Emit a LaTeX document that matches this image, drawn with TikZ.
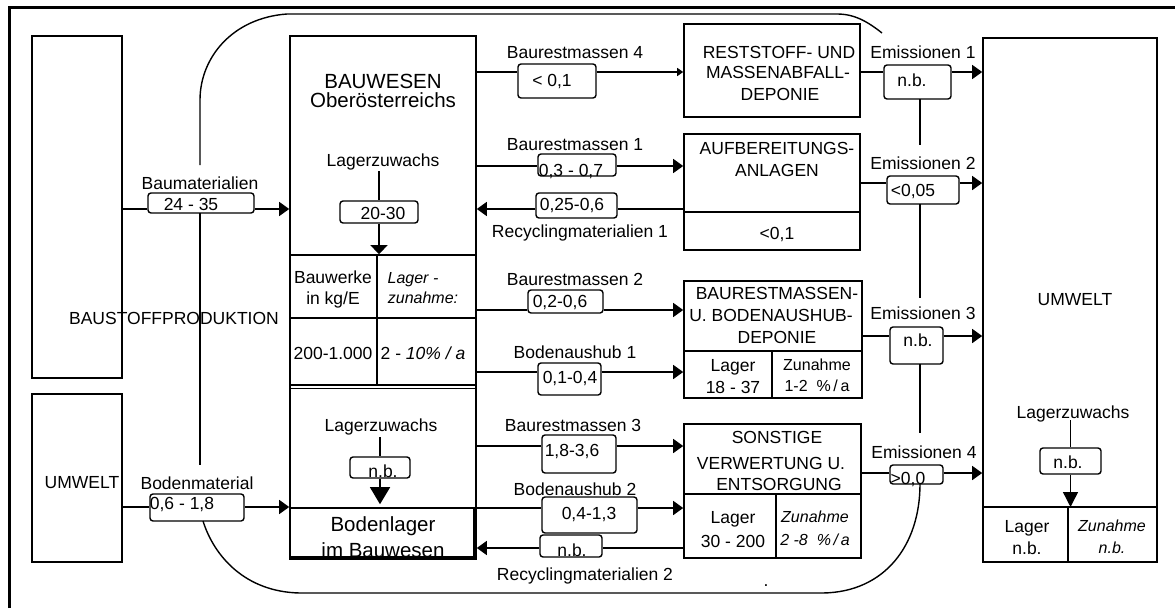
\documentclass[tikz,border=0pt]{standalone}
\usepackage{fontspec}
\setmainfont{Liberation Sans}
\usetikzlibrary{arrows.meta}
\tikzset{
 tx/.style={inner sep=0pt, font=\fontsize{17.5pt}{21pt}\selectfont, text height=12.5pt, text depth=0pt},
 txl/.style={inner sep=0pt, font=\fontsize{20.5pt}{24pt}\selectfont, text height=14.7pt, text depth=0pt},
 txs/.style={inner sep=0pt, font=\fontsize{16pt}{19pt}\selectfont, text height=11.5pt, text depth=0pt},
 txsi/.style={inner sep=0pt, font=\fontsize{16pt}{19pt}\selectfont\itshape, text height=11.5pt, text depth=0pt},
 blk/.style={draw, line width=1.6pt, inner sep=0pt},
 vbox/.style={draw, line width=1.4pt, rounded corners=3pt, inner sep=0pt},
 flow/.style={line width=1.4pt},
 arr/.style={flow, -{Triangle[length=10pt,width=14pt]}},
 arrsmall/.style={flow, -{Triangle[length=6pt,width=8pt]}},
 arrdA/.style={flow, -{Triangle[length=9pt,width=17pt]}},
 arrdB/.style={flow, -{Triangle[length=17pt,width=20pt]}},
 arrdC/.style={flow, -{Triangle[length=15pt,width=15pt]}},
}
\begin{document}
\begin{tikzpicture}[x=1pt,y=-1pt]
\useasboundingbox (0,0) rectangle (1175,608);
% outer frame
\draw[line width=3pt] (9.5,608) -- (9.5,7.5) -- (1175,7.5);

% large boxes
\node[blk, minimum width=90pt, minimum height=342pt] (bsp) at (77,207) {};
\node[blk, minimum width=90pt, minimum height=168pt] (uml) at (77,478) {};
\node[blk, minimum width=186pt, minimum height=523pt] (bw) at (383,297.5) {};
\node[blk, minimum width=186pt, minimum height=130pt] (tab) at (383,320) {};
\draw[line width=1.6pt] (290,318) -- (476,318);
\draw[line width=1.6pt] (377,255) -- (377,385);
\draw[line width=1.6pt] (290,388.5) -- (476,388.5);
\node[blk, minimum width=184pt, minimum height=49pt] (bl) at (382,532.5) {};
\node[blk, minimum width=176pt, minimum height=93pt] (rs) at (772,70.5) {};
\node[blk, minimum width=176pt, minimum height=116pt] (af) at (772,192) {};
\draw[line width=1.6pt] (684,212) -- (860,212);
\node[blk, minimum width=178pt, minimum height=117pt] (bd) at (773,339.5) {};
\draw[line width=1.6pt] (684,351) -- (862,351);
\draw[line width=1.6pt] (772,351) -- (772,398);
\node[blk, minimum width=177pt, minimum height=134pt] (so) at (772.5,491) {};
\draw[line width=1.6pt] (684,494) -- (861,494);
\draw[line width=1.6pt] (776,494) -- (776,558);
\node[blk, minimum width=174pt, minimum height=524pt] (ur) at (1070,300) {};
\draw[line width=1.6pt] (983,507) -- (1157,507);
\draw[line width=1.6pt] (1068,507) -- (1068,562);
\coordinate (urdiv) at (1068,507);

% value boxes
\node[vbox, minimum width=106pt, minimum height=20pt] (v1) at (201,203) {};
\node[vbox, minimum width=94pt, minimum height=27pt] (v2) at (197,507.5) {};
\node[vbox, minimum width=78pt, minimum height=34pt] (vb4) at (557,81) {};
\node[vbox, minimum width=78pt, minimum height=22pt] (vb1) at (577,165) {};
\node[vbox, minimum width=81pt, minimum height=25pt] (vr1) at (576.5,205.5) {};
\node[vbox, minimum width=75pt, minimum height=23pt] (vb2) at (565.5,301.5) {};
\node[vbox, minimum width=63pt, minimum height=32pt] (va1) at (569.5,379) {};
\node[vbox, minimum width=74pt, minimum height=38pt] (vb3) at (579,454) {};
\node[vbox, minimum width=95pt, minimum height=36pt] (va2) at (589.5,515) {};
\node[vbox, minimum width=62pt, minimum height=22pt] (vr2) at (571,546) {};
\node[vbox, minimum width=67pt, minimum height=34pt] (ve1) at (917.5,82) {};
\node[vbox, minimum width=72pt, minimum height=28pt] (ve2) at (923,190) {};
\node[vbox, minimum width=53pt, minimum height=37pt] (ve3) at (916.5,345.5) {};
\node[vbox, minimum width=53pt, minimum height=19pt] (ve4) at (916.5,474.5) {};
\node[vbox, minimum width=78pt, minimum height=22pt] (vl1) at (379,212) {};
\node[vbox, minimum width=60pt, minimum height=21pt] (vl2) at (380,467.5) {};
\node[vbox, minimum width=61pt, minimum height=26pt] (vl3) at (1070.5,461) {};

% flow levels
\coordinate (yBM) at (0,209);
\coordinate (yBO) at (0,507);
\coordinate (yB4) at (0,72);
\coordinate (yB1) at (0,166);
\coordinate (yR1) at (0,209);
\coordinate (yB2) at (0,310);
\coordinate (yA1) at (0,372);
\coordinate (yB3) at (0,446);
\coordinate (yA2) at (0,508);
\coordinate (yR2) at (0,548);
\coordinate (yE1) at (0,72);
\coordinate (yE2) at (0,183);
\coordinate (yE3) at (0,336);
\coordinate (yE4) at (0,473);

% left flows
\draw[flow] (bsp.east |- yBM) -- (v1.west |- yBM);
\draw[arr] (v1.east |- yBM) -- (bw.west |- yBM);
\draw[flow] (uml.east |- yBO) -- (v2.west |- yBO);
\draw[arr] (v2.east |- yBO) -- (bw.west |- yBO);

% middle flows
\draw[flow] (bw.east |- yB4) -- (vb4.west |- yB4);
\draw[arrsmall] (vb4.east |- yB4) -- (rs.west |- yB4);
\draw[flow] (bw.east |- yB1) -- (vb1.west |- yB1);
\draw[arr] (vb1.east |- yB1) -- (af.west |- yB1);
\draw[flow] (af.west |- yR1) -- (vr1.east |- yR1);
\draw[arr] (vr1.west |- yR1) -- (bw.east |- yR1);
\draw[flow] (bw.east |- yB2) -- (vb2.west |- yB2);
\draw[arr] (vb2.east |- yB2) -- (bd.west |- yB2);
\draw[flow] (bw.east |- yA1) -- (va1.west |- yA1);
\draw[arr] (va1.east |- yA1) -- (bd.west |- yA1);
\draw[flow] (bw.east |- yB3) -- (vb3.west |- yB3);
\draw[arr] (vb3.east |- yB3) -- (so.west |- yB3);
\draw[flow] (bw.east |- yA2) -- (va2.west |- yA2);
\draw[arr] (va2.east |- yA2) -- (so.west |- yA2);
\draw[flow] (so.west |- yR2) -- (vr2.east |- yR2);
\draw[arr] (vr2.west |- yR2) -- (bw.east |- yR2);

% right flows
\draw[flow] (rs.east |- yE1) -- (ve1.west |- yE1);
\draw[arr] (ve1.east |- yE1) -- (ur.west |- yE1);
\draw[flow] (af.east |- yE2) -- (ve2.west |- yE2);
\draw[arr] (ve2.east |- yE2) -- (ur.west |- yE2);
\draw[flow] (bd.east |- yE3) -- (ve3.west |- yE3);
\draw[arr] (ve3.east |- yE3) -- (ur.west |- yE3);
\draw[flow] (so.east |- yE4) -- (ve4.west |- yE4);
\draw[arr] (ve4.east |- yE4) -- (ur.west |- yE4);

% system boundary
\draw[flow] (882,33) .. controls (868,22) and (855,14) .. (837,14) -- (287,14) .. controls (232,18) and (200,58) .. (200,100) -- (200,165);
\draw[flow] (200,213) -- (200,465);
\draw[flow] (203,521) .. controls (214,556) and (245,592) .. (300,593) -- (823,593) .. controls (885,592) and (920,545) .. (920,484);
\draw[flow] (920,99) -- (920,145);
\draw[flow] (920,204) -- (920,298);
\draw[flow] (920,364) -- (920,433);

% inner stock arrows
\node[tx] (lz1) at (383,160) {Lagerzuwachs};
\node[tx] (lz2) at (381,425) {Lagerzuwachs};
\node[tx] (lz3) at (1073,412) {Lagerzuwachs};
\draw[flow] ([yshift=-5pt]lz1.south -| vl1.north) -- (vl1.north);
\draw[arrdA] (vl1.south) -- (vl1.south |- tab.north);
\draw[flow] ([yshift=-6pt]lz2.south -| vl2.north) -- (vl2.north);
\draw[arrdB] (vl2.south) -- ([yshift=3pt]vl2.south |- bl.north);
\draw[flow] ([yshift=-2pt]lz3.south -| vl3.north) -- (vl3.north);
\draw[arrdC] (vl3.south) -- (vl3.south |- urdiv);

% texts left
\node[tx] (t1) at (174,318) {BAUSTOFFPRODUKTION};
\node[tx] (t2) at (82,482) {UMWELT};
\node[tx] (t3) at (200,183) {Baumaterialien};
\node[tx] (t4) at (191,204) {24 - 35};
\node[tx] (t5) at (197,483) {Bodenmaterial};
\node[tx] (t6) at (182,503) {0,6 - 1,8};

% BAUWESEN texts
\node[txl] (t7) at (383,81) {BAUWESEN};
\node[txl] (t8) at (383,100) {Oberösterreichs};
\node[tx] (t9) at (383,213) {20-30};
\node[tx] (t10) at (333,277) {Bauwerke};
\node[tx] (t11) at (333,298) {in kg/E};
\node[txsi] (t12) at (413,278) {Lager -};
\node[txsi] (t13) at (423,298) {zunahme:};
\node[tx] (t14) at (333,353) {200-1.000};
\node[tx] (t15) at (423,353) {2 - \textit{10\% / a}};
\node[tx] (t16) at (383,471) {n.b.};
\node[txl] (t17) at (383,524) {Bodenlager};
\node[txl] (t18) at (383,550) {im Bauwesen};

% middle texts
\node[tx] (m1) at (575,52) {Baurestmassen 4};
\node[tx] (m2) at (552,80) {< 0,1};
\node[tx] (m3) at (575,144) {Baurestmassen 1};
\node[tx] (m4) at (571,170) {0,3 - 0,7};
\node[tx] (m5) at (572,204) {0,25-0,6};
\node[tx] (m6) at (580,231) {Recyclingmaterialien 1};
\node[tx] (m7) at (575,279) {Baurestmassen 2};
\node[tx] (m8) at (560,301) {0,2-0,6};
\node[tx] (m9) at (575,352) {Bodenaushub 1};
\node[tx] (m10) at (570,377) {0,1-0,4};
\node[tx] (m11) at (573,425) {Baurestmassen 3};
\node[tx] (m12) at (572,450) {1,8-3,6};
\node[tx] (m13) at (575,489) {Bodenaushub 2};
\node[tx] (m14) at (589,513) {0,4-1,3};
\node[tx] (m15) at (572,550) {n.b.};
\node[tx] (m16) at (585,574) {Recyclingmaterialien 2};
\node[tx, anchor=base] (m17) at (766,586) {.};

% target box texts
\node[tx] (r1) at (779,52) {RESTSTOFF- UND};
\node[tx] (r2) at (778,72) {MASSENABFALL-};
\node[tx] (r3) at (780,94) {DEPONIE};
\node[tx] (a1) at (777,148) {AUFBEREITUNGS-};
\node[tx] (a2) at (777,170) {ANLAGEN};
\node[tx] (a3) at (777,233) {<0,1};
\node[tx] (d1) at (777,293) {BAURESTMASSEN-};
\node[tx] (d2) at (771,315) {U. BODENAUSHUB-};
\node[tx] (d3) at (777,337) {DEPONIE};
\node[tx] (d4) at (733,365) {Lager};
\node[tx] (d5) at (733,387) {18 - 37};
\node[txs] (d6) at (817,365) {Zunahme};
\node[txs] (d7) at (817,386) {1-2 \ \%\,/\,a};
\node[tx] (s1) at (777,437) {SONSTIGE};
\node[tx] (s2) at (771,463) {VERWERTUNG U.};
\node[tx] (s3) at (779,484) {ENTSORGUNG};
\node[tx] (s4) at (733,517) {Lager};
\node[tx] (s5) at (733,541) {30 - 200};
\node[txsi] (s6) at (815,517) {Zunahme};
\node[txsi] (s7) at (815,540) {2 -8 \ \%\,/\,a};

% right texts
\node[tx] (e1) at (923,52) {Emissionen 1};
\node[tx] (e2) at (912,80) {n.b.};
\node[tx] (e3) at (923,163) {Emissionen 2};
\node[tx] (e4) at (913,190) {<0,05};
\node[tx] (e5) at (923,313) {Emissionen 3};
\node[tx] (e6) at (918,340) {n.b.};
\node[tx] (e7) at (924,452) {Emissionen 4};
\node[tx] (e8) at (908,478) {>0,0};
\node[tx] (u1) at (1075,299) {UMWELT};
\node[tx] (u2) at (1068,462) {n.b.};
\node[tx] (u3) at (1027,526) {Lager};
\node[tx] (u4) at (1027,548) {n.b.};
\node[txsi] (u5) at (1112,526) {Zunahme};
\node[txsi] (u6) at (1112,548) {n.b.};
\end{tikzpicture}
\end{document}
